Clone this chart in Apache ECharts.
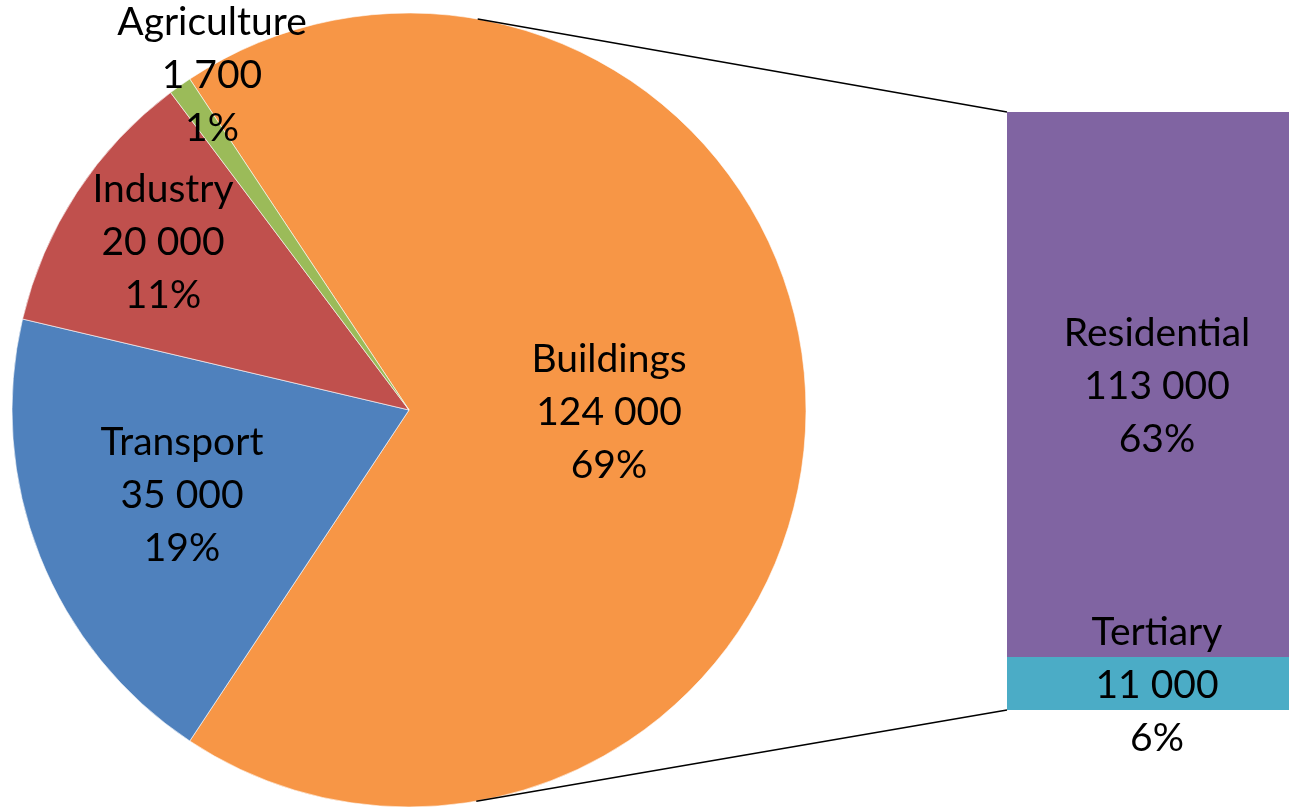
<!DOCTYPE html>
<html>
<head>
<meta charset="utf-8">
<title>Energy use by sector</title>
<script src="https://cdn.jsdelivr.net/npm/echarts@6/dist/echarts.min.js"></script>
<style>
  html, body { margin: 0; padding: 0; background: #fff; }
  #chart { width: 1289px; height: 808px; }
</style>
</head>
<body>
<div id="chart"></div>
<script>
// pie: sectors (Buildings is split out into the bar on the right)
var sectorNames = ['Buildings', 'Transport', 'Industry', 'Agriculture'];
var sectorValues = [124000, 35000, 20000, 1700];
var sectorColors = ['#F79646', '#4F81BD', '#C0504D', '#9BBB59'];

// bar: breakdown of Buildings
var buildingNames = ['Tertiary', 'Residential'];
var buildingValues = [11000, 113000];
var buildingColors = ['#4BACC6', '#8064A2'];

// where Excel put the pie labels (centre of the middle line)
var pieLabelAt = [[609, 412], [182, 495], [163, 242], [212, 75]];

var pieCenter = [409, 410];
var pieRadius = 397;
// the bar runs a little past the right edge of the picture
var gridLeft = 1007, gridTop = 112, gridBottom = 98, gridWidth = 300;

var total = sectorValues.reduce(function (a, b) { return a + b; }, 0);

var fmt = function (v) {
  return String(v).replace(/\B(?=(\d{3})+(?!\d))/g, ' ');
};
var pct = function (v) {
  return Math.round(v / total * 100) + '%';
};
var labelText = function (p) {
  return p.name + '\n' + fmt(p.value) + '\n' + pct(p.value);
};

// start so that Buildings is centred on the right-hand side
var startAngle = sectorValues[0] / total * 360 / 2;

var labelStyle = {
  color: '#000',
  fontFamily: 'Lato',
  fontSize: 39,
  lineHeight: 53,
  textBorderWidth: 0
};

var pieData = sectorNames.map(function (n, i) {
  return { name: n, value: sectorValues[i], itemStyle: { color: sectorColors[i] } };
});

var barSeries = buildingNames.map(function (n, i) {
  return {
    name: n,
    type: 'bar',
    stack: 'b',
    barWidth: '100%',
    data: [buildingValues[i]],
    itemStyle: { color: buildingColors[i] },
    label: Object.assign({
      show: true,
      position: 'inside',
      offset: [9, 2],
      formatter: function (p) { return p.seriesName + '\n' + fmt(p.value) + '\n' + pct(p.value); }
    }, labelStyle)
  };
});

var chart = echarts.init(document.getElementById('chart'));

var option = {
  animation: false,
  backgroundColor: '#fff',
  grid: { left: gridLeft, top: gridTop, bottom: gridBottom, width: gridWidth, containLabel: false },
  xAxis: { type: 'category', data: ['Buildings'], show: false },
  yAxis: { type: 'value', min: 0, max: sectorValues[0], show: false },
  series: [{
    type: 'pie',
    center: pieCenter,
    radius: pieRadius,
    startAngle: startAngle,
    clockwise: true,
    silent: true,
    data: pieData,
    itemStyle: { borderColor: '#fff', borderWidth: 0.6 },
    labelLine: { show: false },
    label: Object.assign({ show: true, position: 'inside', formatter: labelText }, labelStyle),
    labelLayout: function (params) {
      var p = pieLabelAt[params.dataIndex];
      return { x: p[0], y: p[1], align: 'center', verticalAlign: 'middle' };
    }
  }].concat(barSeries)
};

chart.setOption(option);

// connector lines: tangents from the bar's corners to the pie
var yTop = chart.convertToPixel({ yAxisIndex: 0 }, sectorValues[0]);
var yBottom = chart.convertToPixel({ yAxisIndex: 0 }, 0);

var tangentPoint = function (px, py, sign) {
  var dx = px - pieCenter[0], dy = py - pieCenter[1];
  var d = Math.sqrt(dx * dx + dy * dy);
  var a = Math.atan2(dy, dx) + sign * Math.acos(pieRadius / d);
  return [pieCenter[0] + pieRadius * Math.cos(a), pieCenter[1] + pieRadius * Math.sin(a)];
};

var t1 = tangentPoint(gridLeft, yTop, -1);
var t2 = tangentPoint(gridLeft, yBottom, 1);

chart.setOption({
  graphic: [
    { type: 'line', shape: { x1: t1[0], y1: t1[1], x2: gridLeft, y2: yTop }, style: { stroke: '#000', lineWidth: 1.5 }, z: 10 },
    { type: 'line', shape: { x1: t2[0], y1: t2[1], x2: gridLeft, y2: yBottom }, style: { stroke: '#000', lineWidth: 1.5 }, z: 10 }
  ]
});
</script>
</body>
</html>
